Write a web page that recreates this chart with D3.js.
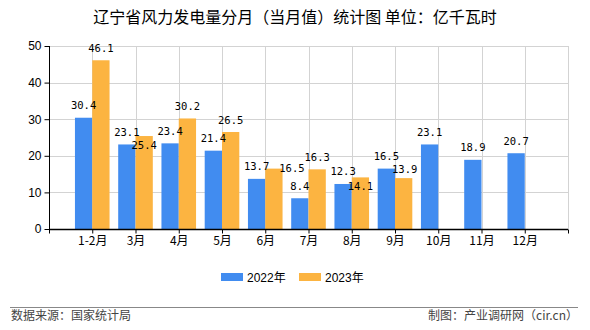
<!DOCTYPE html>
<html>
<head>
<meta charset="utf-8">
<script src="https://cdn.jsdelivr.net/npm/d3@7/dist/d3.min.js"></script>
<style>
  html, body { margin: 0; padding: 0; background: #fff; }
  svg { display: block; }
</style>
</head>
<body>
<svg id="chart" width="590" height="330"></svg>
<script>
// Monthly wind power generation, Liaoning (100 million kWh)
const months = ["1-2月", "3月", "4月", "5月", "6月", "7月", "8月", "9月", "10月", "11月", "12月"];
const values2022 = [30.4, 23.1, 23.4, 21.4, 13.7, 8.4, 12.3, 16.5, 23.1, 18.9, 20.7];
const values2023 = [46.1, 25.4, 30.2, 26.5, 16.5, 16.3, 14.1, 13.9];
const seriesNames = ["2022年", "2023年"];
const yTicks = [0, 10, 20, 30, 40, 50];

const colors = ["#418CF0", "#FCB441"];
const W = 590, H = 330;
const plot = { left: 49, right: 568, top: 46, bottom: 229 };

// Label nudges where value labels would collide (series-index) -> [dx, dy]
const labelNudge = {
  "1-1": [0, 21],
  "1-4": [18, 12],
  "1-6": [0, 21],
  "1-7": [1, 3.5]
};

const svg = d3.select("#chart");

const x = d3.scaleLinear().domain([0, months.length + 1]).range([plot.left, plot.right]);
const y = d3.scaleLinear().domain([0, 50]).range([plot.bottom, plot.top]);
const step = x(1) - x(0);
const barW = step * 0.4;

// Grid
const grid = svg.append("g").attr("stroke", "#d3d3d3").attr("stroke-width", 1);
grid.selectAll("line.h").data(yTicks.slice(1)).join("line")
  .attr("x1", plot.left).attr("x2", plot.right)
  .attr("y1", d => Math.round(y(d)) + 0.5).attr("y2", d => Math.round(y(d)) + 0.5);
grid.selectAll("line.v").data(d3.range(1, months.length + 2)).join("line")
  .attr("x1", d => Math.round(x(d)) + 0.5).attr("x2", d => Math.round(x(d)) + 0.5)
  .attr("y1", plot.top).attr("y2", plot.bottom);

// Bars
const series = [values2022, values2023];
series.forEach((vals, s) => {
  svg.append("g").selectAll("rect").data(vals).join("rect")
    .attr("x", (d, i) => x(i + 1) - barW + s * barW)
    .attr("width", barW)
    .attr("y", d => y(d))
    .attr("height", d => y(0) - y(d))
    .attr("fill", colors[s]);
});

// Value labels
series.forEach((vals, s) => {
  svg.append("g").selectAll("text").data(vals).join("text")
    .attr("x", (d, i) => x(i + 1) - barW / 2 + s * barW + (labelNudge[s + "-" + i] || [0, 0])[0])
    .attr("y", (d, i) => y(d) - 8.5 + (labelNudge[s + "-" + i] || [0, 0])[1])
    .attr("text-anchor", "middle")
    .attr("font-family", "'DejaVu Sans Mono', monospace")
    .attr("font-size", 10.5)
    .attr("fill", "#000")
    .text(d => d.toFixed(1));
});

// Y axis
const yAxis = d3.axisLeft(y).tickValues(yTicks).tickSize(5).tickPadding(3).tickFormat(d3.format("d"));
const gy = svg.append("g").attr("transform", `translate(${plot.left + 0.5},0)`).call(yAxis);
gy.select(".domain").attr("stroke", "#000").attr("d", `M0,${plot.top}V${plot.bottom}`);
gy.selectAll(".tick line").attr("stroke", "#000");
gy.selectAll("text").attr("font-family", "'Liberation Sans', Arial, sans-serif").attr("font-size", 12).attr("fill", "#000");

// X axis
const xAxis = d3.axisBottom(x).tickValues(d3.range(0, months.length + 2)).tickSize(4).tickPadding(3)
  .tickFormat(d => (d >= 1 && d <= months.length) ? months[d - 1] : "");
const gx = svg.append("g").attr("transform", `translate(0,${plot.bottom + 0.5})`).call(xAxis);
gx.select(".domain").attr("stroke", "#000").attr("stroke-width", 1.5).attr("d", `M${plot.left},0H${plot.right}`);
gx.selectAll(".tick line").attr("stroke", "#000");
gx.selectAll("text").attr("font-family", "'Noto Sans CJK SC', sans-serif").attr("font-size", 12).attr("fill", "#000");

// Title
svg.append("text")
  .attr("x", W / 2).attr("y", 23)
  .attr("text-anchor", "middle")
  .attr("font-family", "'Noto Sans CJK SC', sans-serif")
  .attr("font-size", 16)
  .attr("fill", "#000")
  .text("辽宁省风力发电量分月（当月值）统计图 单位：亿千瓦时");

// Legend
const legend = svg.append("g");
const legendX = [221, 299];
seriesNames.forEach((name, s) => {
  legend.append("rect").attr("x", legendX[s]).attr("y", 273).attr("width", 22).attr("height", 8).attr("fill", colors[s]);
  legend.append("text").attr("x", legendX[s] + 26).attr("y", 281.5)
    .attr("font-family", "'Liberation Sans', 'Noto Sans CJK SC', sans-serif")
    .attr("font-size", 12).attr("fill", "#000").text(name);
});

// Footer
svg.append("line").attr("x1", 10).attr("x2", 578).attr("y1", 307.5).attr("y2", 307.5)
  .attr("stroke", "#888").attr("stroke-width", 1);
svg.append("text").attr("x", 11).attr("y", 320)
  .attr("font-family", "'Noto Sans CJK SC', sans-serif").attr("font-size", 12).attr("fill", "#444")
  .text("数据来源：国家统计局");
svg.append("text").attr("x", 578).attr("y", 320).attr("text-anchor", "end")
  .attr("font-family", "'Noto Sans CJK SC', sans-serif").attr("font-size", 12).attr("fill", "#444")
  .text("制图：产业调研网（cir.cn）");
</script>
</body>
</html>
